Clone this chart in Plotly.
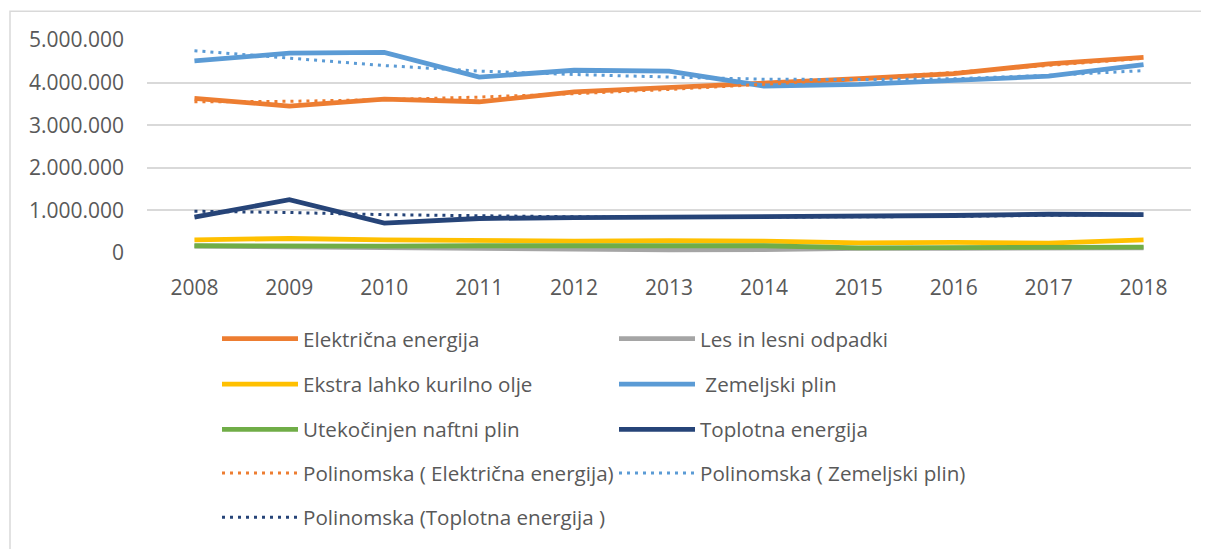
import plotly.graph_objects as go

years = [2008, 2009, 2010, 2011, 2012, 2013, 2014, 2015, 2016, 2017, 2018]

elektricna = [3630000, 3450000, 3610000, 3550000, 3780000, 3880000, 4000000, 4090000, 4210000, 4440000, 4590000]
les = [160000, 140000, 110000, 90000, 80000, 75000, 80000, 110000, 110000, 110000, 120000]
ekstra = [310000, 340000, 310000, 290000, 280000, 290000, 280000, 240000, 250000, 230000, 310000]
zemeljski = [4510000, 4690000, 4710000, 4130000, 4290000, 4270000, 3920000, 3960000, 4050000, 4150000, 4420000]
utekocinjen = [170000, 160000, 160000, 170000, 170000, 170000, 170000, 120000, 120000, 120000, 140000]
toplotna = [840000, 1250000, 700000, 810000, 830000, 840000, 840000, 860000, 880000, 910000, 900000]

trend_elektricna = [3550000, 3560000, 3600000, 3660000, 3740000, 3840000, 3960000, 4090000, 4240000, 4400000, 4570000]
trend_zemeljski = [4750000, 4570000, 4400000, 4270000, 4190000, 4130000, 4080000, 4070000, 4090000, 4170000, 4280000]
trend_toplotna = [980000, 950000, 900000, 870000, 850000, 840000, 840000, 850000, 860000, 880000, 910000]

y_ticks = [0, 1000000, 2000000, 3000000, 4000000, 5000000]
y_tick_labels = ["0", "1.000.000", "2.000.000", "3.000.000", "4.000.000", "5.000.000"]

C_OR = "#ED7D31"
C_GR = "#A5A5A5"
C_YE = "#FFC000"
C_BL = "#5B9BD5"
C_GN = "#70AD47"
C_NV = "#264478"

FONT = "Open Sans"
TXT = "#595959"

series = [
    ("Električna energija", elektricna, C_OR, "solid", "legend"),
    ("Les in lesni odpadki", les, C_GR, "solid", "legend"),
    ("Ekstra lahko kurilno olje", ekstra, C_YE, "solid", "legend2"),
    (" Zemeljski plin", zemeljski, C_BL, "solid", "legend2"),
    ("Utekočinjen naftni plin", utekocinjen, C_GN, "solid", "legend3"),
    ("Toplotna energija", toplotna, C_NV, "solid", "legend3"),
    ("Polinomska ( Električna energija)", trend_elektricna, C_OR, "3px,5px", "legend4"),
    ("Polinomska ( Zemeljski plin)", trend_zemeljski, C_BL, "3px,5px", "legend4"),
    ("Polinomska (Toplotna energija )", trend_toplotna, C_NV, "3px,5px", "legend5"),
]

fig = go.Figure()
for name, vals, col, dash, lg in series:
    w = 4.8 if dash == "solid" else 3
    fig.add_trace(go.Scatter(
        x=years, y=vals, name=name, mode="lines",
        line=dict(color=col, width=w, dash=dash),
        legend=lg, cliponaxis=False, hoverinfo="skip",
    ))

# page body has an 8px default margin; pixel targets below are reference coords
OFF = 8
W, H = 1209 - OFF, 549 - OFF
L = 147 - OFF
T = 40 - OFF
plot_bottom = 255.7 - OFF
plot_right = 1191 - OFF
R = W - plot_right
B = H - plot_bottom
plot_h = plot_bottom - T
plot_w = plot_right - L


def px_x(px):
    return (px - OFF - L) / plot_w


def px_y(py):
    return (plot_bottom - (py - OFF)) / plot_h


ITEMW = 76
legend_common = dict(
    orientation="h", xanchor="left", yanchor="middle",
    font=dict(family=FONT, size=20.6, color=TXT),
    entrywidth=306, entrywidthmode="pixels",
    bgcolor="rgba(0,0,0,0)", itemwidth=ITEMW, traceorder="normal",
)
row_y = [342.5, 388.5, 434.5, 478.5, 523.5]
legends = {}
for i, ry in enumerate(row_y):
    key = "legend" if i == 0 else f"legend{i+1}"
    legends[key] = dict(legend_common, x=px_x(303 - 10 - ITEMW), y=px_y(ry))

fig.update_layout(
    width=W, height=H,
    margin=dict(l=L, r=R, t=T, b=B, pad=0),
    paper_bgcolor="white", plot_bgcolor="white",
    font=dict(family=FONT, size=21, color=TXT),
    showlegend=True,
    xaxis=dict(
        range=[2007.5, 2018.5], tickmode="array", tickvals=years,
        ticktext=[str(y) for y in years], showgrid=False, zeroline=False,
        showline=False, ticks="", ticklabelstandoff=20,
        tickfont=dict(family=FONT, size=21, color=TXT), fixedrange=True,
    ),
    yaxis=dict(
        range=[0, 5000000], tickmode="array", tickvals=y_ticks,
        ticktext=y_tick_labels, showgrid=True, gridcolor="#D9D9D9",
        gridwidth=1.5, zeroline=False, showline=False, ticks="",
        ticklabelstandoff=22,
        tickfont=dict(family=FONT, size=21, color=TXT), fixedrange=True,
    ),
    shapes=[dict(
        type="rect", xref="paper", yref="paper",
        x0=px_x(10), x1=px_x(1240), y0=px_y(600), y1=px_y(11),
        line=dict(color="#D9D9D9", width=1.5), fillcolor="rgba(0,0,0,0)",
        layer="below",
    )],
    **legends,
)

fig.write_html("out.html")
